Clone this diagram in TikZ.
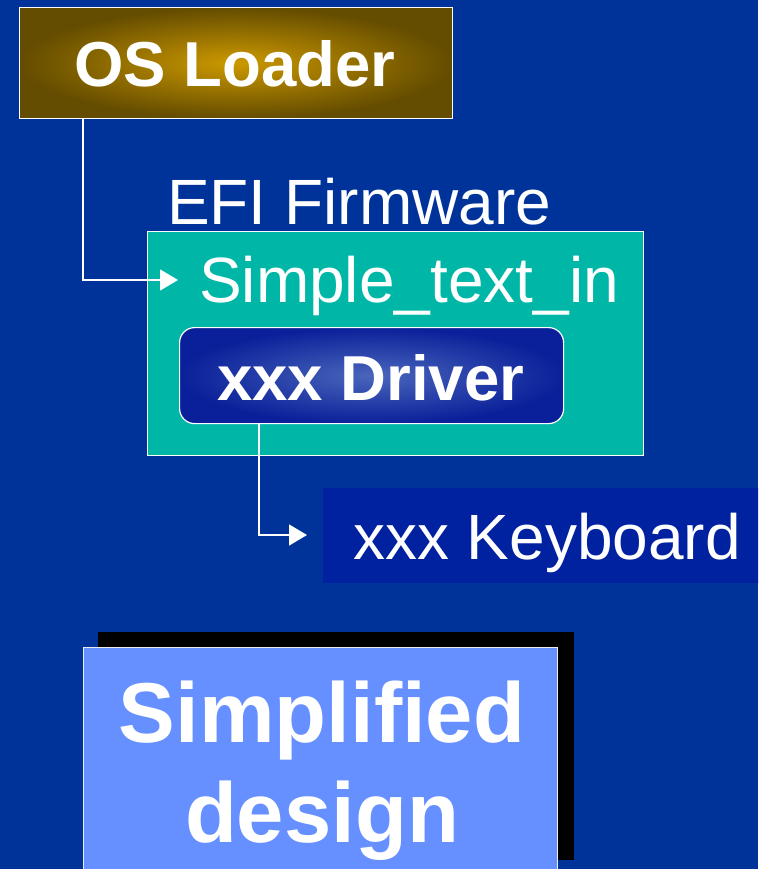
\documentclass[tikz,border=0pt]{standalone}
\usepackage{fontspec}
\setmainfont{Liberation Sans}
\usetikzlibrary{arrows.meta}
\definecolor{bgblue}{RGB}{0,51,153}
\definecolor{tealbox}{RGB}{0,183,167}
\definecolor{kbblue}{RGB}{0,34,160}
\definecolor{simpblue}{RGB}{102,144,255}
\definecolor{goldc}{RGB}{204,153,0}
\definecolor{golde}{RGB}{100,76,0}
\definecolor{drvc}{RGB}{74,102,187}
\definecolor{drve}{RGB}{10,32,154}
\tikzset{
  lbl/.style={text=white,inner sep=0pt,anchor=base west,font=\fontsize{64}{64}\selectfont},
  blbl/.style={lbl,font=\fontsize{63.5}{63.5}\selectfont\bfseries},
  bigl/.style={text=white,inner sep=0pt,anchor=base,font=\fontsize{85}{85}\selectfont\bfseries},
  boxr/.style={draw=white,line width=1.2pt,anchor=north west,inner sep=0pt},
  conn/.style={draw=white,line width=1.5pt,-{Triangle[length=18pt,width=21pt]}}
}
\begin{document}
\begin{tikzpicture}[x=1pt,y=-1pt]
\useasboundingbox (0,0) rectangle (758,869);
\clip (0,0) rectangle (758,869);
\fill[bgblue] (0,0) rectangle (758,869);
% OS Loader
\node[boxr,minimum width=433pt,minimum height=111pt,shading=radial,inner color=goldc,outer color=golde] (osl) at (19,7) {};
\node[blbl] (osltxt) at (74,87) {OS Loader};
% EFI Firmware
\node[lbl] (efi) at (167,224) {EFI Firmware};
\node[boxr,fill=tealbox,minimum width=496pt,minimum height=224pt] (fw) at (147,231) {};
\node[lbl] (simple) at (199,302) {Simple\_text\_in};
% xxx Driver
\node[boxr,rounded corners=15pt,minimum width=384pt,minimum height=96pt,shading=radial,inner color=drvc,outer color=drve] (drv) at (179,327) {};
\node[blbl] (drvtxt) at (217,400) {xxx Driver};
% Keyboard
\node[anchor=north west,fill=kbblue,inner sep=0pt,minimum width=440pt,minimum height=95pt] (kb) at (323,488) {};
\node[lbl] (kbtxt) at (353,559) {xxx Keyboard};
% connectors
\coordinate (t1) at (178,280);
\coordinate (t2) at (307,535);
\draw[conn] ([xshift=64pt]osl.south west) |- (t1);
\draw[conn] ([xshift=80pt]drv.south west) |- (t2);
% Simplified design
\node[anchor=north west,fill=black,inner sep=0pt,minimum width=476pt,minimum height=228pt] (shadow) at (98,632) {};
\node[anchor=north west,fill=simpblue,draw=white!85!gray,line width=1pt,inner sep=0pt,minimum width=474pt,minimum height=240pt] (simp) at (83,647) {};
\node[bigl] (simp1) at (322,742) {Simplified};
\node[bigl] (simp2) at (322,842) {design};
\end{tikzpicture}
\end{document}
